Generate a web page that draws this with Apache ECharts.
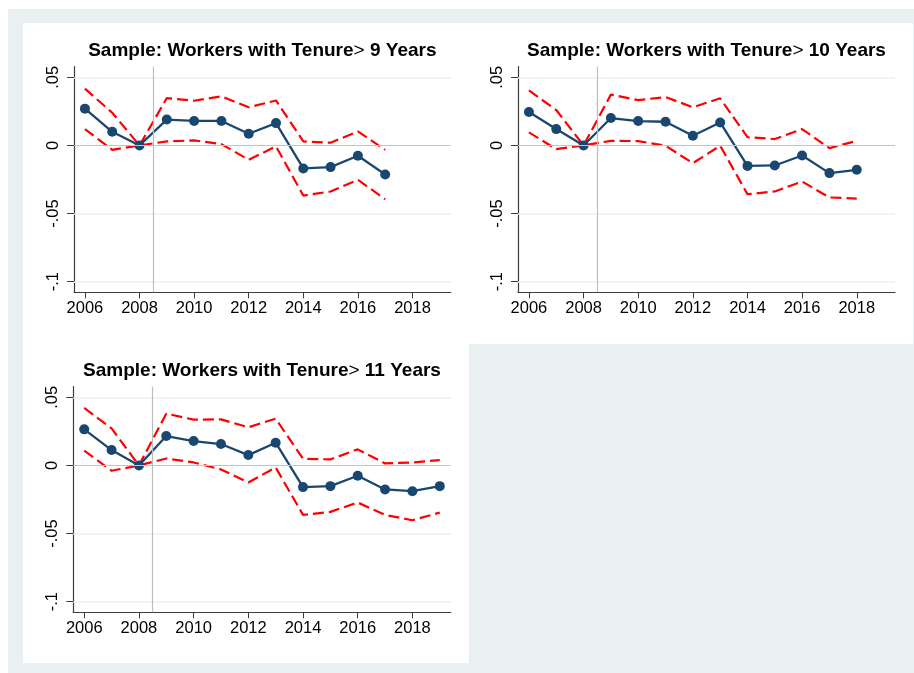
<!DOCTYPE html>
<html>
<head>
<meta charset="utf-8">
<script src="https://cdn.jsdelivr.net/npm/echarts@6/dist/echarts.min.js"></script>
<style>
  html, body { margin: 0; padding: 0; background: #ffffff; }
  #main { width: 914px; height: 673px; }
</style>
</head>
<body>
<div id="main"></div>
<script>
// year axis
const years = [2006, 2007, 2008, 2009, 2010, 2011, 2012, 2013, 2014, 2015, 2016, 2017, 2018, 2019];
const xTicks = [2006, 2008, 2010, 2012, 2014, 2016, 2018];
const yTicks = [-0.1, -0.05, 0, 0.05];

// tenure > 9 years
const coef9 = [0.027, 0.010, 0, 0.019, 0.018, 0.018, 0.0086, 0.0164, -0.0169, -0.0159, -0.0076, -0.0213];
const hi9 = [0.0417, 0.024, 0, 0.0348, 0.0328, 0.036, 0.028, 0.033, 0.003, 0.002, 0.0103, -0.0032];
const lo9 = [0.012, -0.0032, 0, 0.003, 0.0037, 0.001, -0.0105, -0.0007, -0.0368, -0.0338, -0.0252, -0.0395];

// tenure > 10 years
const coef10 = [0.0245, 0.012, 0, 0.0201, 0.0179, 0.0174, 0.0071, 0.0169, -0.015, -0.0147, -0.0074, -0.0203, -0.0179];
const hi10 = [0.0404, 0.026, 0, 0.0373, 0.0333, 0.0355, 0.028, 0.0346, 0.0061, 0.0047, 0.012, -0.002, 0.0034];
const lo10 = [0.0096, -0.0027, 0, 0.0034, 0.0032, -0.0002, -0.013, -0.0002, -0.0358, -0.0338, -0.0265, -0.0382, -0.039];

// tenure > 11 years
const coef11 = [0.0265, 0.0113, 0, 0.0216, 0.0179, 0.0157, 0.0076, 0.0167, -0.0159, -0.0152, -0.0076, -0.0176, -0.0189, -0.0152];
const hi11 = [0.0422, 0.0272, 0, 0.038, 0.0336, 0.0338, 0.028, 0.0343, 0.0049, 0.0044, 0.0118, 0.0015, 0.0022, 0.0039];
const lo11 = [0.0108, -0.0039, 0, 0.0051, 0.0022, -0.0029, -0.0125, -0.0015, -0.0363, -0.0341, -0.0272, -0.0363, -0.0402, -0.0346];

const panels = [
  { label: '9', coef: coef9, hi: hi9, lo: lo9, grid: { left: 74, top: 66.7, width: 376.7, height: 225.6 } },
  { label: '10', coef: coef10, hi: hi10, lo: lo10, grid: { left: 518, top: 66.7, width: 377, height: 225.6 } },
  { label: '11', coef: coef11, hi: hi11, lo: lo11, grid: { left: 73.3, top: 386.7, width: 377.4, height: 225.6 } }
];

const navy = '#1a476f';
const font = 'Liberation Sans, Arial, Helvetica, sans-serif';

function pairs(vals) {
  return vals.map((v, i) => [years[i], v]);
}

function yFmt(v) {
  if (Math.abs(v) < 1e-9) return '0';
  return String(+v.toFixed(2)).replace('0.', '.');
}

const grids = [], xAxes = [], yAxes = [], titles = [], series = [];

panels.forEach((p, i) => {
  grids.push(p.grid);
  titles.push({
    text: '{b|Sample: Workers with Tenure}{n|>}{b| ' + p.label + ' Years}',
    left: p.grid.left + p.grid.width / 2,
    top: p.grid.top - 25,
    textAlign: 'center',
    padding: 0,
    textStyle: {
      rich: {
        b: { fontFamily: font, fontSize: 19, fontWeight: 'bold', color: '#000' },
        n: { fontFamily: font, fontSize: 19, fontWeight: 'normal', color: '#000' }
      }
    }
  });
  xAxes.push({
    type: 'value', gridIndex: i, min: 2005.6, max: 2019.4,
    axisLine: { show: true, onZero: false, lineStyle: { color: '#3c3c3c', width: 1.2 } },
    axisTick: { show: true, length: 6, customValues: xTicks, lineStyle: { color: '#3c3c3c' } },
    axisLabel: { customValues: xTicks, margin: 8, color: '#000', fontFamily: font, fontSize: 16.5, formatter: v => String(v) },
    splitLine: { show: false }
  });
  yAxes.push({
    type: 'value', gridIndex: i, min: -0.1078, max: 0.0578,
    axisLine: { show: true, onZero: false, lineStyle: { color: '#3c3c3c', width: 1.2 } },
    axisTick: { show: true, length: 7, customValues: yTicks, lineStyle: { color: '#3c3c3c' } },
    axisLabel: { customValues: yTicks, rotate: 90, margin: 12, color: '#000', fontFamily: font, fontSize: 16.5, formatter: yFmt },
    splitLine: { show: false }
  });
  // gridlines, zero line and the 2008.5 marker
  series.push({
    type: 'line', xAxisIndex: i, yAxisIndex: i, data: [], z: 1, silent: true,
    markLine: {
      silent: true, symbol: 'none', label: { show: false },
      animation: false,
      data: [
        { yAxis: -0.1, lineStyle: { color: '#eaf2f3', width: 1.5, type: 'solid' } },
        { yAxis: -0.05, lineStyle: { color: '#eaf2f3', width: 1.5, type: 'solid' } },
        { yAxis: 0.05, lineStyle: { color: '#eaf2f3', width: 1.5, type: 'solid' } },
        { yAxis: 0, lineStyle: { color: '#c4c4c4', width: 1.2, type: 'solid' } },
        { xAxis: 2008.5, lineStyle: { color: '#bdbdbd', width: 1.2, type: 'solid' } }
      ]
    }
  });
  series.push({
    type: 'line', xAxisIndex: i, yAxisIndex: i, data: pairs(p.hi), z: 3,
    showSymbol: false, lineStyle: { color: '#ff0000', width: 2.2, type: [11, 5] }
  });
  series.push({
    type: 'line', xAxisIndex: i, yAxisIndex: i, data: pairs(p.lo), z: 3,
    showSymbol: false, lineStyle: { color: '#ff0000', width: 2.2, type: [11, 5] }
  });
  series.push({
    type: 'line', xAxisIndex: i, yAxisIndex: i, data: pairs(p.coef), z: 4,
    symbol: 'circle', symbolSize: 10,
    itemStyle: { color: navy }, lineStyle: { color: navy, width: 2.3 }
  });
});

const option = {
  animation: false,
  backgroundColor: '#ffffff',
  graphic: [
    { type: 'rect', z: -10, shape: { x: 8, y: 9, width: 906, height: 664 }, style: { fill: '#e8f0f2' } },
    { type: 'rect', z: -9, shape: { x: 23, y: 23, width: 890, height: 321 }, style: { fill: '#ffffff' } },
    { type: 'rect', z: -9, shape: { x: 23, y: 344, width: 446, height: 319 }, style: { fill: '#ffffff' } }
  ],
  title: titles,
  grid: grids,
  xAxis: xAxes,
  yAxis: yAxes,
  series: series
};

const myChart = echarts.init(document.getElementById('main'), null, { renderer: 'canvas' });
myChart.setOption(option);
</script>
</body>
</html>
